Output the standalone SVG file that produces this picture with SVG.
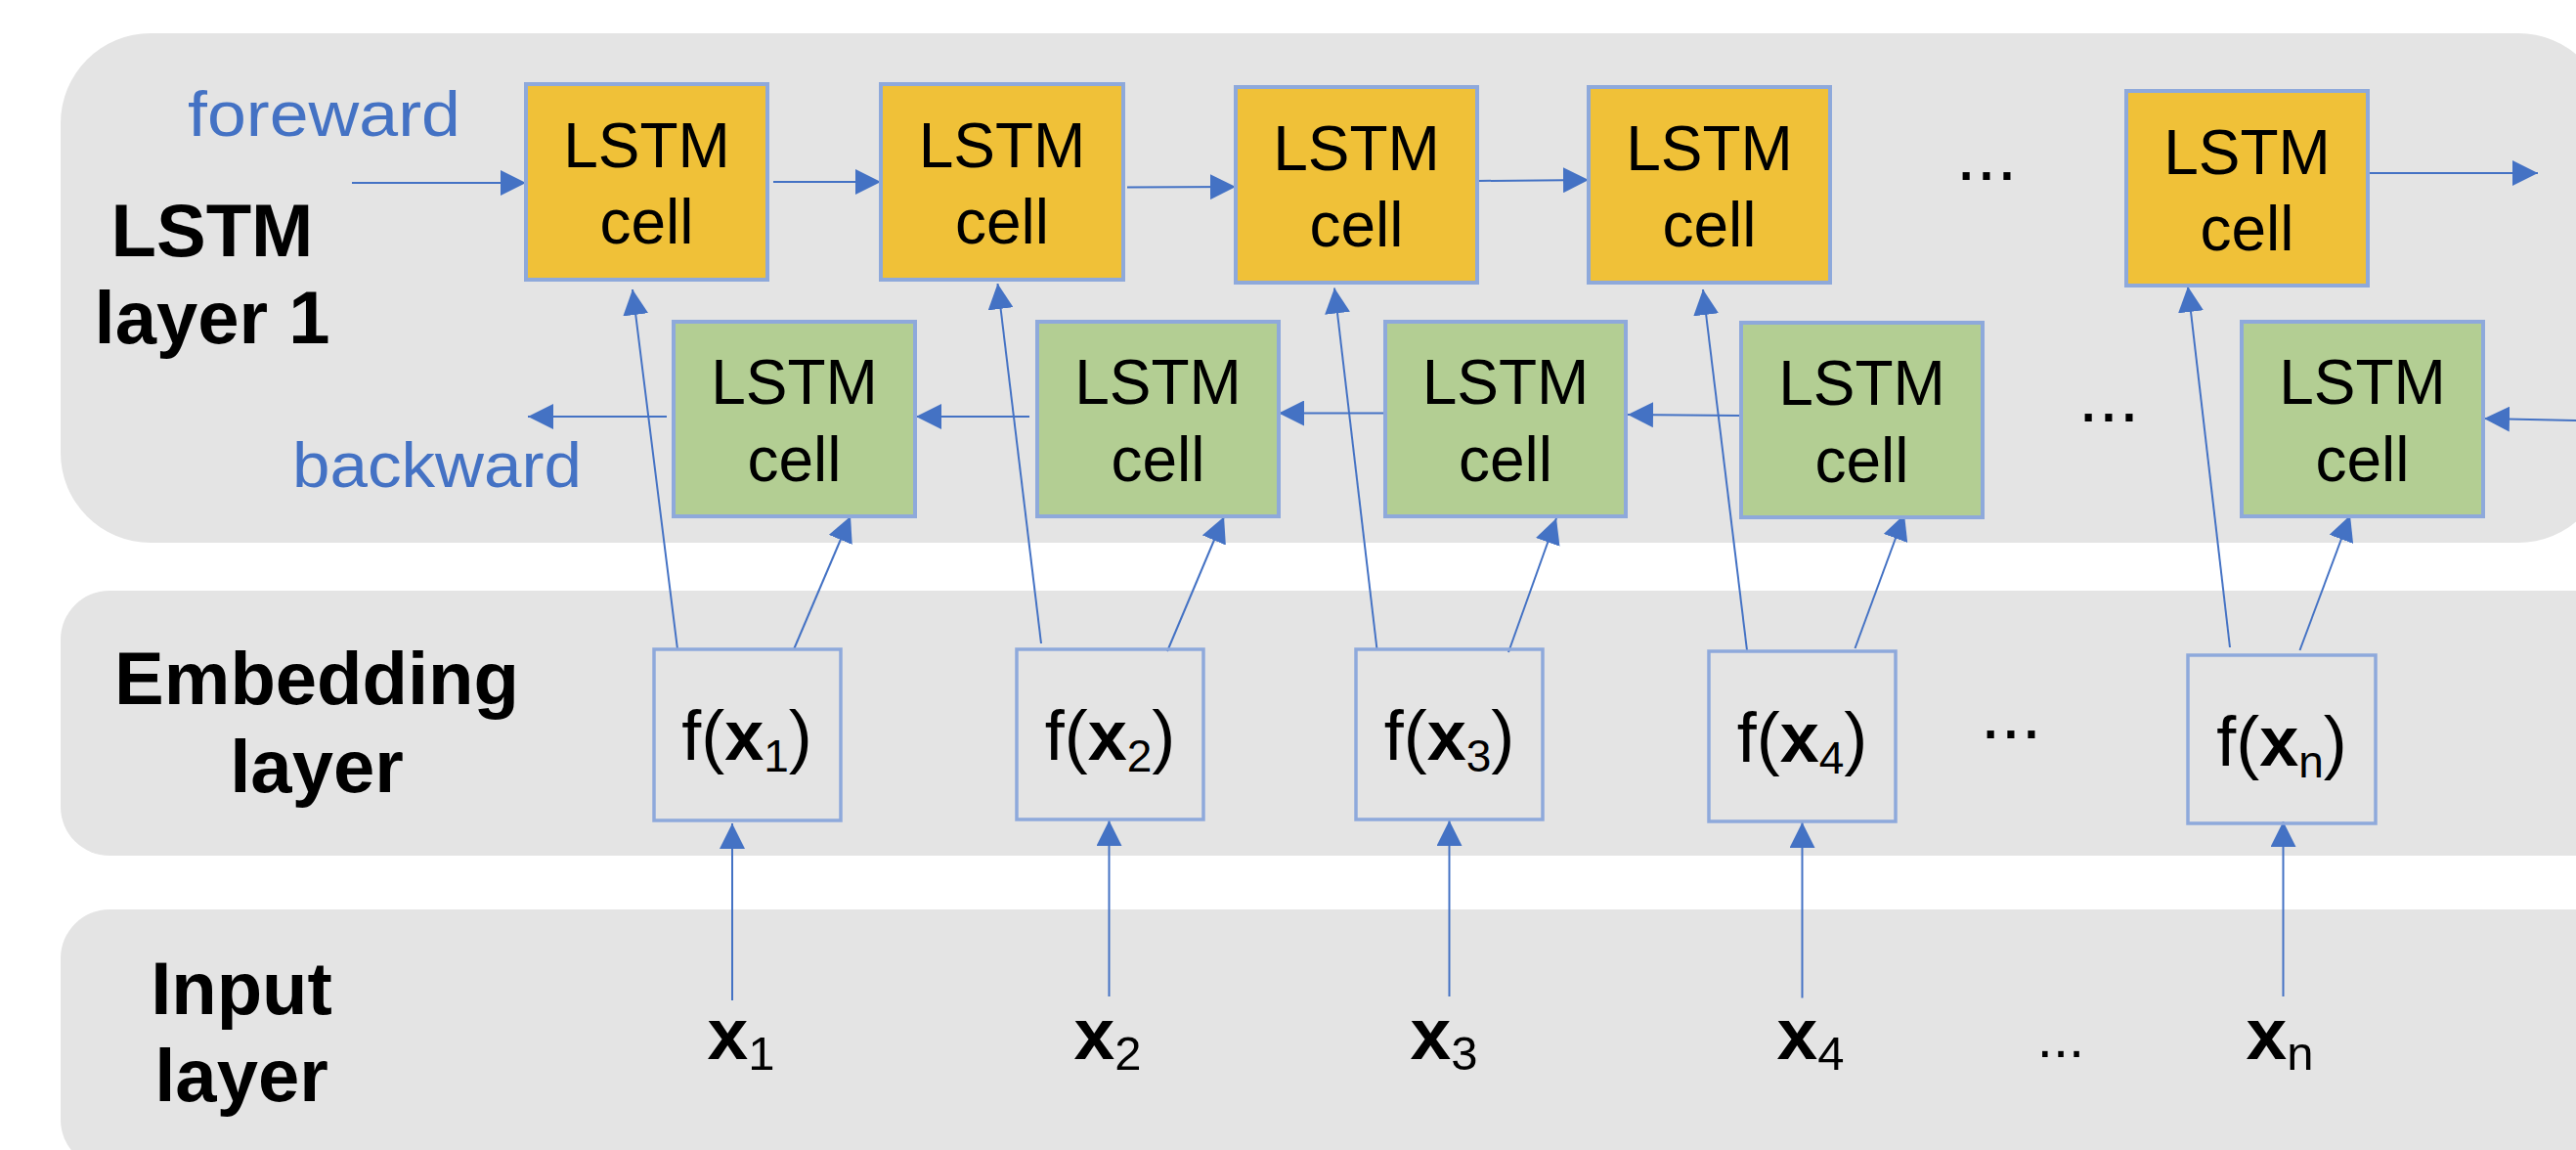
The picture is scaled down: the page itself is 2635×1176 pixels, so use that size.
<svg xmlns="http://www.w3.org/2000/svg" width="2635" height="1176" viewBox="0 0 2635 1176">
<style>
.panel{fill:#E4E4E4}
.fwd{fill:#F0C138;stroke:#8EA9DB;stroke-width:4}
.bwd{fill:#B3CE93;stroke:#8EA9DB;stroke-width:4}
.emb{fill:none;stroke:#8EA9DB;stroke-width:3.5}
.cell{font-family:"Liberation Sans",Arial,sans-serif;font-size:64px;fill:#000;text-anchor:middle}
.lbl{font-family:"Liberation Sans",Arial,sans-serif;font-size:76px;font-weight:bold;fill:#000;text-anchor:middle}
.dir{font-family:"Liberation Sans",Arial,sans-serif;font-size:64px;fill:#4472C4}
.fx{font-family:"Liberation Sans",Arial,sans-serif;font-size:72px;fill:#000;text-anchor:middle}
.xin{font-family:"Liberation Sans",Arial,sans-serif;font-size:75px;font-weight:bold;fill:#000;text-anchor:middle}
.dots{font-family:"Liberation Sans",Arial,sans-serif;font-size:75px;fill:#000;text-anchor:middle}
.b{font-weight:bold}
.sub{font-weight:normal;font-size:46px}
.subin{font-weight:normal;font-size:49px}
.conn line{stroke:#4472C4;stroke-width:2;fill:none;marker-end:url(#ah)}
</style>
<defs>
<marker id="ah" viewBox="0 0 26 26" refX="26" refY="13" markerWidth="26" markerHeight="26" markerUnits="userSpaceOnUse" orient="auto">
<path d="M0,0 L26,13 L0,26 z" fill="#4472C4"/>
</marker>
</defs>
<rect width="2635" height="1176" fill="#FFFFFF"/>
<g id="panels">
<rect id="panel-lstm" class="panel" x="62" y="34" width="2606" height="521" rx="92" ry="92"/>
<rect id="panel-embedding" class="panel" x="62" y="604" width="2640" height="271" rx="50" ry="50"/>
<rect id="panel-input" class="panel" x="62" y="930" width="2640" height="265" rx="50" ry="50"/>
</g>
<g id="layer-labels">
<text class="lbl" x="217" y="262">LSTM</text>
<text class="lbl" x="217" y="351">layer 1</text>
<text class="lbl" x="324" y="720">Embedding</text>
<text class="lbl" x="324" y="810">layer</text>
<text class="lbl" x="247" y="1037">Input</text>
<text class="lbl" x="247" y="1126">layer</text>
<text class="dir" x="192" y="139" textLength="279" lengthAdjust="spacingAndGlyphs">foreward</text>
<text class="dir" x="299" y="498" textLength="296" lengthAdjust="spacingAndGlyphs">backward</text>
</g>
<g id="connectors" class="conn">
<line x1="360" y1="187" x2="538" y2="187"/>
<line x1="791" y1="186" x2="901" y2="186"/>
<line x1="1153" y1="191.5" x2="1264" y2="191"/>
<line x1="1511" y1="185" x2="1625" y2="184"/>
<line x1="2422" y1="177" x2="2596" y2="177"/>
<line x1="2640" y1="430" x2="2541" y2="428"/>
<line x1="1781" y1="425" x2="1665" y2="424"/>
<line x1="1417" y1="422.5" x2="1308" y2="422.5"/>
<line x1="1053" y1="426" x2="937" y2="426"/>
<line x1="682" y1="426" x2="540" y2="426"/>
<line x1="693" y1="664" x2="647" y2="296"/>
<line x1="812" y1="664" x2="870" y2="528"/>
<line x1="1065" y1="658" x2="1020.5" y2="290"/>
<line x1="1194" y1="666" x2="1252" y2="528.5"/>
<line x1="1408.5" y1="664" x2="1365" y2="294.5"/>
<line x1="1543" y1="667" x2="1592" y2="530"/>
<line x1="1787" y1="665" x2="1742" y2="296"/>
<line x1="1897.5" y1="663" x2="1948" y2="526"/>
<line x1="2281" y1="662" x2="2238" y2="293"/>
<line x1="2352.5" y1="665" x2="2404" y2="527"/>
<line x1="749" y1="1023" x2="749" y2="842"/>
<line x1="1134.5" y1="1019" x2="1134.5" y2="839"/>
<line x1="1482.5" y1="1019" x2="1482.5" y2="839"/>
<line x1="1843.5" y1="1020.5" x2="1843.5" y2="841"/>
<line x1="2335.5" y1="1019" x2="2335.5" y2="840"/>
</g>
<g id="fwd1"><rect class="fwd" x="538" y="86" width="247" height="200"/><text class="cell" x="661.5" y="171">LSTM</text><text class="cell" x="661.5" y="249">cell</text></g>
<g id="fwd2"><rect class="fwd" x="901" y="86" width="248" height="200"/><text class="cell" x="1025" y="171">LSTM</text><text class="cell" x="1025" y="249">cell</text></g>
<g id="fwd3"><rect class="fwd" x="1264" y="89" width="247" height="200"/><text class="cell" x="1387.5" y="174">LSTM</text><text class="cell" x="1387.5" y="252">cell</text></g>
<g id="fwd4"><rect class="fwd" x="1625" y="89" width="247" height="200"/><text class="cell" x="1748.5" y="174">LSTM</text><text class="cell" x="1748.5" y="252">cell</text></g>
<g id="fwd5"><rect class="fwd" x="2175" y="93" width="247" height="199"/><text class="cell" x="2298.5" y="178">LSTM</text><text class="cell" x="2298.5" y="256">cell</text></g>
<g id="bwd1"><rect class="bwd" x="689" y="329" width="247" height="199"/><text class="cell" x="812.5" y="413">LSTM</text><text class="cell" x="812.5" y="492">cell</text></g>
<g id="bwd2"><rect class="bwd" x="1061" y="329" width="247" height="199"/><text class="cell" x="1184.5" y="413">LSTM</text><text class="cell" x="1184.5" y="492">cell</text></g>
<g id="bwd3"><rect class="bwd" x="1417" y="329" width="246" height="199"/><text class="cell" x="1540" y="413">LSTM</text><text class="cell" x="1540" y="492">cell</text></g>
<g id="bwd4"><rect class="bwd" x="1781" y="330" width="247" height="199"/><text class="cell" x="1904.5" y="414">LSTM</text><text class="cell" x="1904.5" y="493">cell</text></g>
<g id="bwd5"><rect class="bwd" x="2293" y="329" width="247" height="199"/><text class="cell" x="2416.5" y="413">LSTM</text><text class="cell" x="2416.5" y="492">cell</text></g>
<g id="emb1"><rect class="emb" x="669" y="664" width="191" height="175"/><text class="fx" x="764" y="777">f(<tspan class="b">x</tspan><tspan class="sub" dy="12">1</tspan><tspan dy="-12">)</tspan></text></g>
<g id="emb2"><rect class="emb" x="1040" y="664" width="191" height="174"/><text class="fx" x="1135.5" y="777">f(<tspan class="b">x</tspan><tspan class="sub" dy="12">2</tspan><tspan dy="-12">)</tspan></text></g>
<g id="emb3"><rect class="emb" x="1387" y="664" width="191" height="174"/><text class="fx" x="1482.5" y="777">f(<tspan class="b">x</tspan><tspan class="sub" dy="12">3</tspan><tspan dy="-12">)</tspan></text></g>
<g id="emb4"><rect class="emb" x="1748" y="666" width="191" height="174"/><text class="fx" x="1843.5" y="779">f(<tspan class="b">x</tspan><tspan class="sub" dy="12">4</tspan><tspan dy="-12">)</tspan></text></g>
<g id="emb5"><rect class="emb" x="2238" y="670" width="192" height="172"/><text class="fx" x="2334" y="783">f(<tspan class="b">x</tspan><tspan class="sub" dy="12">n</tspan><tspan dy="-12">)</tspan></text></g>
<g id="inputs">
<text class="xin" x="758" y="1083">x<tspan class="subin" dy="11">1</tspan></text>
<text class="xin" x="1133" y="1083">x<tspan class="subin" dy="11">2</tspan></text>
<text class="xin" x="1477" y="1083">x<tspan class="subin" dy="11">3</tspan></text>
<text class="xin" x="1852" y="1083">x<tspan class="subin" dy="11">4</tspan></text>
<text class="xin" x="2332" y="1083">x<tspan class="subin" dy="11">n</tspan></text>
</g>
<g id="ellipses">
<text class="dots" x="2032" y="184">...</text>
<text class="dots" x="2157" y="431">...</text>
<text class="dots" x="2057" y="755">...</text>
<text class="dots" x="2108" y="1081" style="font-size:58px">...</text>
</g>
</svg>
